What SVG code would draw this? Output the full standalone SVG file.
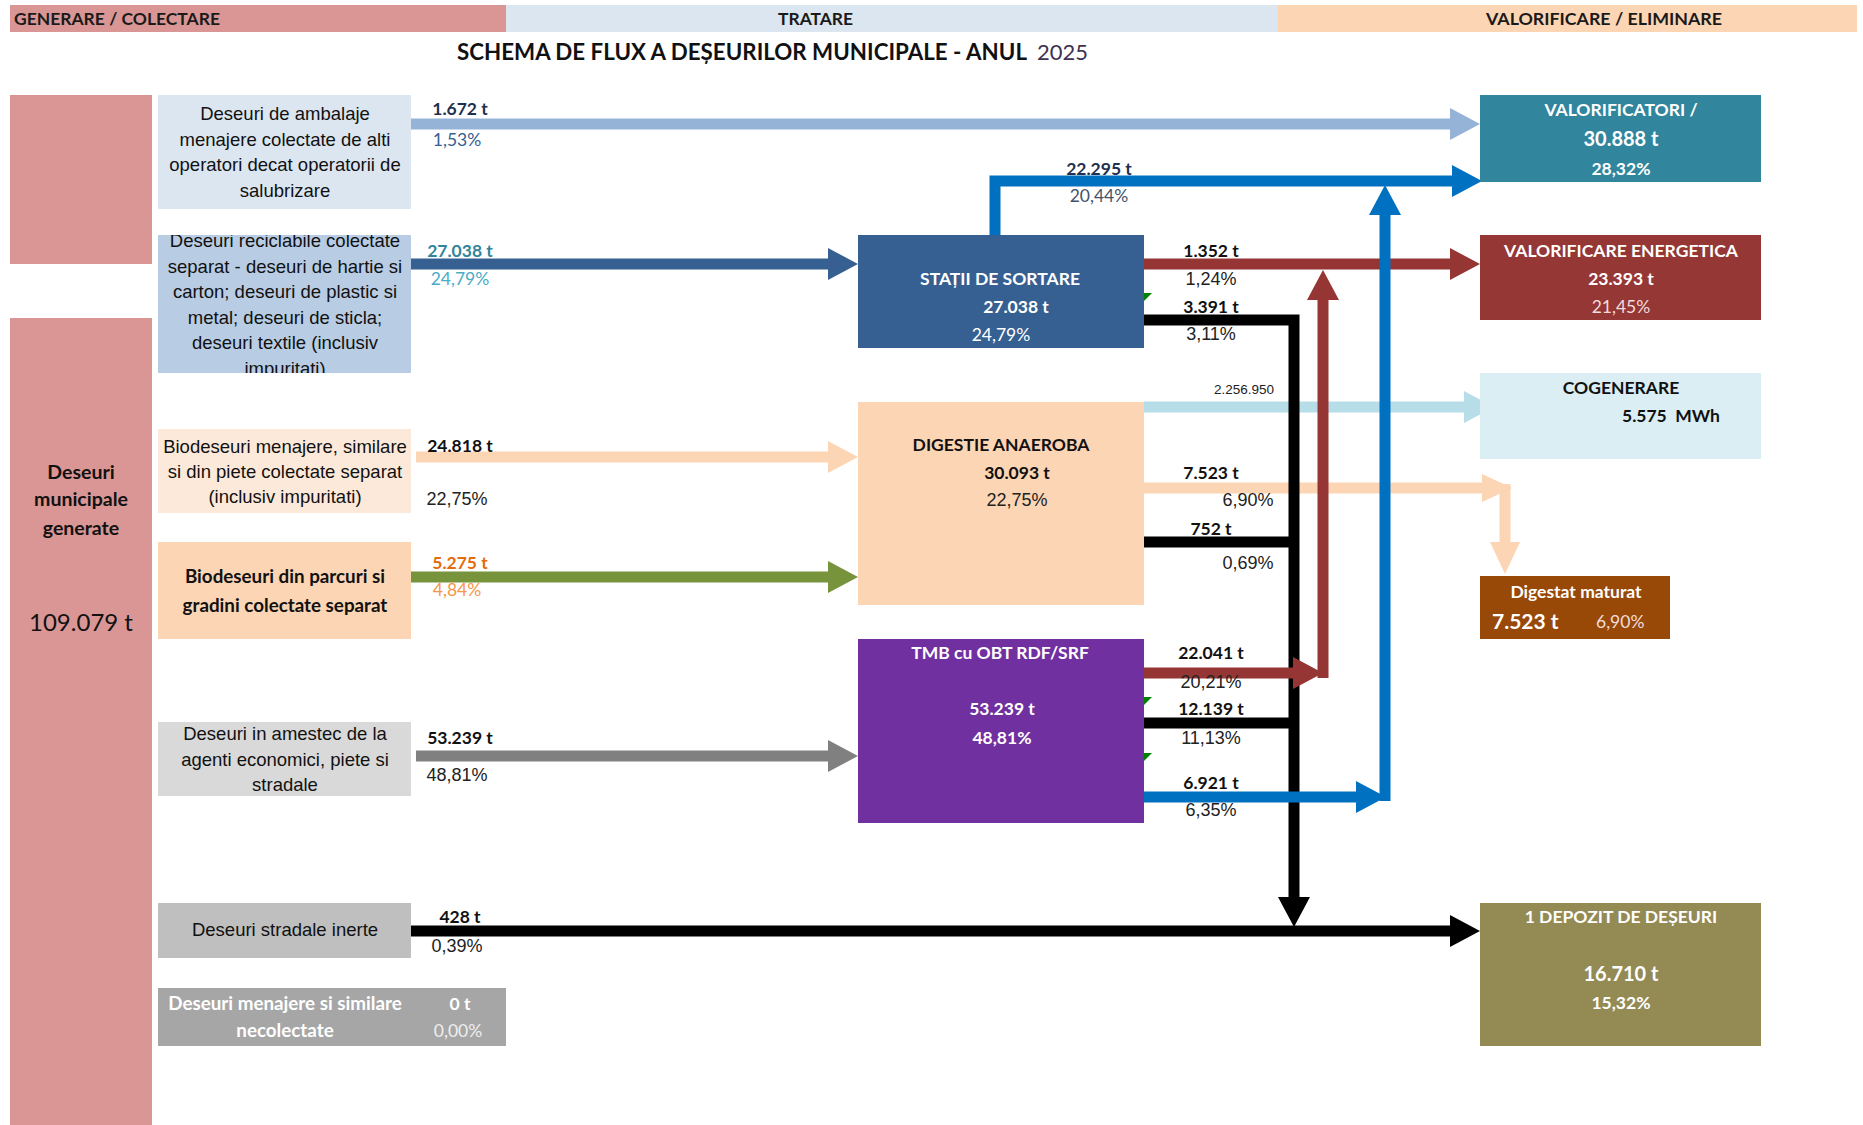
<svg xmlns="http://www.w3.org/2000/svg" width="1863" height="1125" viewBox="0 0 1863 1125">
  <style>
    .hdr { font-family: Lato, "Liberation Sans", sans-serif; font-weight: bold; font-size: 17px; fill: #1a1a1a; }
    .title { font-family: Lato, "Liberation Sans", sans-serif; font-weight: bold; font-size: 22px; fill: #111; }
    .bx { font-family: "Liberation Sans", Arial, sans-serif; font-size: 18.5px; fill: #111; text-anchor: middle; }
    .bb { font-family: Lato, "Liberation Sans", sans-serif; font-weight: bold; font-size: 18.8px; text-anchor: middle; }
    .rh { font-family: Lato, "Liberation Sans", sans-serif; font-weight: bold; font-size: 17.5px; text-anchor: middle; }
    .t { font-family: Lato, "Liberation Sans", sans-serif; font-weight: bold; font-size: 17.5px; fill: #111; text-anchor: middle; }
    .p { font-family: Lato, "Liberation Sans", sans-serif; font-size: 17.5px; text-anchor: middle; }
    .pa { font-family: "Liberation Sans", Arial, sans-serif; font-size: 18px; fill: #222; text-anchor: middle; }
    .w { fill: #ffffff; }
    .flow { fill: none; stroke-width: 11; stroke-linejoin: miter; }
  </style>
  <defs>
    <marker id="h-lblue" viewBox="0 0 30 32" refX="0" refY="16" markerWidth="30" markerHeight="32" markerUnits="userSpaceOnUse" orient="auto"><path d="M0,0 L30,16 L0,32 z" fill="#95b3d7"/></marker>
    <marker id="h-dblue" viewBox="0 0 30 32" refX="0" refY="16" markerWidth="30" markerHeight="32" markerUnits="userSpaceOnUse" orient="auto"><path d="M0,0 L30,16 L0,32 z" fill="#376092"/></marker>
    <marker id="h-peach" viewBox="0 0 30 32" refX="0" refY="16" markerWidth="30" markerHeight="32" markerUnits="userSpaceOnUse" orient="auto"><path d="M0,0 L30,16 L0,32 z" fill="#fcd5b4"/></marker>
    <marker id="h-green" viewBox="0 0 30 32" refX="0" refY="16" markerWidth="30" markerHeight="32" markerUnits="userSpaceOnUse" orient="auto"><path d="M0,0 L30,16 L0,32 z" fill="#77933c"/></marker>
    <marker id="h-gray" viewBox="0 0 30 32" refX="0" refY="16" markerWidth="30" markerHeight="32" markerUnits="userSpaceOnUse" orient="auto"><path d="M0,0 L30,16 L0,32 z" fill="#808080"/></marker>
    <marker id="h-black" viewBox="0 0 30 32" refX="0" refY="16" markerWidth="30" markerHeight="32" markerUnits="userSpaceOnUse" orient="auto"><path d="M0,0 L30,16 L0,32 z" fill="#000000"/></marker>
    <marker id="h-blue" viewBox="0 0 30 32" refX="0" refY="16" markerWidth="30" markerHeight="32" markerUnits="userSpaceOnUse" orient="auto"><path d="M0,0 L30,16 L0,32 z" fill="#0070c0"/></marker>
    <marker id="h-brown" viewBox="0 0 30 32" refX="0" refY="16" markerWidth="30" markerHeight="32" markerUnits="userSpaceOnUse" orient="auto"><path d="M0,0 L30,16 L0,32 z" fill="#963634"/></marker>
    <marker id="h-cyan" viewBox="0 0 30 32" refX="0" refY="16" markerWidth="30" markerHeight="32" markerUnits="userSpaceOnUse" orient="auto"><path d="M0,0 L30,16 L0,32 z" fill="#b7dee8"/></marker>
    <clipPath id="clip-recic"><rect x="158" y="235" width="253" height="138"/></clipPath>
  </defs>

  <rect width="1863" height="1125" fill="#ffffff"/>

  <!-- column headers -->
  <g id="headers">
    <rect x="10" y="5" width="496" height="27" fill="#da9694"/>
    <rect x="506" y="5" width="772" height="27" fill="#dce6f1"/>
    <rect x="1278" y="5" width="579" height="27" fill="#fcd5b4"/>
    <text class="hdr" x="14" y="25" textLength="206" lengthAdjust="spacingAndGlyphs">GENERARE / COLECTARE</text>
    <text class="hdr" x="778" y="25" textLength="75" lengthAdjust="spacingAndGlyphs">TRATARE</text>
    <text class="hdr" x="1486" y="25" textLength="236" lengthAdjust="spacingAndGlyphs">VALORIFICARE / ELIMINARE</text>
  </g>
  <text class="title" x="457" y="60" textLength="570" lengthAdjust="spacingAndGlyphs">SCHEMA DE FLUX A DEȘEURILOR MUNICIPALE - ANUL</text>
  <text class="title" x="1037" y="60" textLength="51" lengthAdjust="spacingAndGlyphs" style="font-weight:normal;fill:#3f3151">2025</text>

  <!-- flows -->
  <g id="connectors">
    <path class="flow" stroke="#95b3d7" d="M411,124 H1450" marker-end="url(#h-lblue)"/>
    <path class="flow" stroke="#376092" d="M411,264 H828" marker-end="url(#h-dblue)"/>
    <path class="flow" stroke="#fcd5b4" d="M416,457 H828" marker-end="url(#h-peach)"/>
    <path class="flow" stroke="#77933c" d="M411,577 H828" marker-end="url(#h-green)"/>
    <path class="flow" stroke="#808080" d="M416,756 H828" marker-end="url(#h-gray)"/>
    <path class="flow" stroke="#000000" d="M411,931 H1450" marker-end="url(#h-black)"/>

    <path class="flow" stroke="#0070c0" d="M995,235 V181 H1452" marker-end="url(#h-blue)"/>
    <path class="flow" stroke="#963634" d="M1144,264 H1450" marker-end="url(#h-brown)"/>
    <path class="flow" stroke="#b7dee8" d="M1144,407 H1464" marker-end="url(#h-cyan)"/>

    <path class="flow" stroke="#fcd5b4" d="M1144,488 H1486"/>
    <polygon points="1482,474 1512,488 1482,502" fill="#fcd5b4"/>
    <path class="flow" stroke="#fcd5b4" d="M1505,484 V544"/>
    <polygon points="1490,542 1520,542 1505,574" fill="#fcd5b4"/>

    <path class="flow" stroke="#000000" d="M1144,320 H1294 V897" marker-end="url(#h-black)"/>
    <path class="flow" stroke="#000000" d="M1144,542 H1294"/>
    <path class="flow" stroke="#000000" d="M1144,723 H1294"/>

    <path class="flow" stroke="#963634" d="M1323,678 V300" marker-end="url(#h-brown)"/>
    <path class="flow" stroke="#963634" d="M1144,673 H1293" marker-end="url(#h-brown)"/>

    <path class="flow" stroke="#0070c0" d="M1385,801 V215" marker-end="url(#h-blue)"/>
    <path class="flow" stroke="#0070c0" d="M1144,797 H1356" marker-end="url(#h-blue)"/>
  </g>

  <!-- generation column -->
  <g id="node-generate">
    <rect x="10" y="95" width="142" height="169" fill="#da9694"/>
    <rect x="10" y="318" width="142" height="807" fill="#da9694"/>
    <text class="t" x="81" y="479" style="font-size:19.5px">Deseuri</text>
    <text class="t" x="81" y="506" style="font-size:19.5px">municipale</text>
    <text class="t" x="81" y="535" style="font-size:19.5px">generate</text>
    <text class="p" x="81" y="631" style="font-size:24px;fill:#111">109.079 t</text>
  </g>

  <g id="node-ambalaje">
    <rect x="158" y="95" width="253" height="114" fill="#dce6f1"/>
    <text class="bx" x="285" y="120">Deseuri de ambalaje</text>
    <text class="bx" x="285" y="146">menajere colectate de alti</text>
    <text class="bx" x="285" y="171">operatori decat operatorii de</text>
    <text class="bx" x="285" y="197">salubrizare</text>
    <text class="t" x="460" y="115" style="fill:#1f3050">1.672 t</text>
    <text class="p" x="457" y="146" style="fill:#366092">1,53%</text>
  </g>

  <g id="node-reciclabile">
    <rect x="158" y="235" width="253" height="138" fill="#b8cce4"/>
    <g clip-path="url(#clip-recic)">
      <text class="bx" x="285" y="247">Deseuri reciclabile colectate</text>
      <text class="bx" x="285" y="273">separat - deseuri de hartie si</text>
      <text class="bx" x="285" y="298">carton; deseuri de plastic si</text>
      <text class="bx" x="285" y="324">metal; deseuri de sticla;</text>
      <text class="bx" x="285" y="349">deseuri textile (inclusiv</text>
      <text class="bx" x="285" y="375">impuritati)</text>
    </g>
    <text class="t" x="460" y="257" style="fill:#31849b">27.038 t</text>
    <text class="p" x="460" y="285" style="fill:#4bacc6">24,79%</text>
  </g>

  <g id="node-biomenajere">
    <rect x="158" y="429" width="253" height="84" fill="#fde9d9"/>
    <text class="bx" x="285" y="453">Biodeseuri menajere, similare</text>
    <text class="bx" x="285" y="478">si din piete colectate separat</text>
    <text class="bx" x="285" y="503">(inclusiv impuritati)</text>
    <text class="t" x="460" y="452">24.818 t</text>
    <text class="pa" x="457" y="505">22,75%</text>
  </g>

  <g id="node-bioparcuri">
    <rect x="158" y="542" width="253" height="97" fill="#fcd5b4"/>
    <text class="bb" x="285" y="583" style="fill:#111">Biodeseuri din parcuri si</text>
    <text class="bb" x="285" y="612" style="fill:#111">gradini colectate separat</text>
    <text class="t" x="460" y="569" style="fill:#e46c0a">5.275 t</text>
    <text class="p" x="457" y="596" style="fill:#f79646">4,84%</text>
  </g>

  <g id="node-amestec">
    <rect x="158" y="722" width="253" height="74" fill="#d9d9d9"/>
    <text class="bx" x="285" y="740">Deseuri in amestec de la</text>
    <text class="bx" x="285" y="766">agenti economici, piete si</text>
    <text class="bx" x="285" y="791">stradale</text>
    <text class="t" x="460" y="744">53.239 t</text>
    <text class="pa" x="457" y="781">48,81%</text>
  </g>

  <g id="node-stradale">
    <rect x="158" y="903" width="253" height="55" fill="#bfbfbf"/>
    <text class="bx" x="285" y="936">Deseuri stradale inerte</text>
    <text class="t" x="460" y="923">428 t</text>
    <text class="pa" x="457" y="952">0,39%</text>
  </g>

  <g id="node-necolectate">
    <rect x="158" y="988" width="348" height="58" fill="#a6a6a6"/>
    <text class="bb w" x="285" y="1010">Deseuri menajere si similare</text>
    <text class="bb w" x="285" y="1037">necolectate</text>
    <text class="t w" x="460" y="1010">0 t</text>
    <text class="p" x="458" y="1037" style="fill:#eeeeee">0,00%</text>
  </g>

  <!-- treatment column -->
  <g id="node-sortare">
    <rect x="858" y="235" width="286" height="113" fill="#376092"/>
    <text class="t w" x="1000" y="285">STAȚII DE SORTARE</text>
    <text class="t w" x="1016" y="313">27.038 t</text>
    <text class="p w" x="1001" y="341">24,79%</text>
    <polygon points="1144,293 1152,293 1144,301" fill="#008000"/>
  </g>

  <g id="node-digestie">
    <rect x="858" y="402" width="286" height="203" fill="#fcd5b4"/>
    <text class="t" x="1001" y="451">DIGESTIE ANAEROBA</text>
    <text class="t" x="1017" y="479">30.093 t</text>
    <text class="pa" x="1017" y="506">22,75%</text>
  </g>

  <g id="node-tmb">
    <rect x="858" y="639" width="286" height="184" fill="#7030a0"/>
    <text class="t w" x="1000" y="659">TMB cu OBT RDF/SRF</text>
    <text class="t w" x="1002" y="715">53.239 t</text>
    <text class="t w" x="1002" y="744">48,81%</text>
    <polygon points="1144,697 1152,697 1144,705" fill="#008000"/>
    <polygon points="1144,753 1152,753 1144,761" fill="#008000"/>
  </g>

  <!-- flow labels -->
  <g id="flow-labels">
    <text class="t" x="1099" y="175" style="fill:#1f3050">22.295 t</text>
    <text class="p" x="1099" y="202" style="fill:#44536b">20,44%</text>
    <text class="t" x="1211" y="257">1.352 t</text>
    <text class="pa" x="1211" y="285">1,24%</text>
    <text class="t" x="1211" y="313">3.391 t</text>
    <text class="pa" x="1211" y="340">3,11%</text>
    <text class="pa" x="1244" y="394" style="font-size:13.5px">2.256.950</text>
    <text class="t" x="1211" y="479">7.523 t</text>
    <text class="pa" x="1248" y="506">6,90%</text>
    <text class="t" x="1211" y="535">752 t</text>
    <text class="pa" x="1248" y="569">0,69%</text>
    <text class="t" x="1211" y="659">22.041 t</text>
    <text class="pa" x="1211" y="688">20,21%</text>
    <text class="t" x="1211" y="715">12.139 t</text>
    <text class="pa" x="1211" y="744">11,13%</text>
    <text class="t" x="1211" y="789">6.921 t</text>
    <text class="pa" x="1211" y="816">6,35%</text>
  </g>

  <!-- recovery / disposal column -->
  <g id="node-valorificatori">
    <rect x="1480" y="95" width="281" height="87" fill="#31859c"/>
    <text class="rh w" x="1621" y="116">VALORIFICATORI /</text>
    <text class="t w" x="1621" y="146" style="font-size:20px">30.888 t</text>
    <text class="t w" x="1621" y="175">28,32%</text>
  </g>

  <g id="node-energetica">
    <rect x="1480" y="235" width="281" height="85" fill="#953735"/>
    <text class="rh w" x="1621" y="257">VALORIFICARE ENERGETICA</text>
    <text class="t w" x="1621" y="285">23.393 t</text>
    <text class="p" x="1621" y="313" style="fill:#f2dcdb">21,45%</text>
  </g>

  <g id="node-cogenerare">
    <rect x="1480" y="373" width="281" height="86" fill="#daeef3"/>
    <text class="t" x="1621" y="394">COGENERARE</text>
    <text class="t" x="1622" y="422" style="text-anchor:start" xml:space="preserve">5.575  MWh</text>
  </g>

  <g id="node-digestat">
    <rect x="1480" y="576" width="190" height="63" fill="#984807"/>
    <text class="t w" x="1576" y="598">Digestat maturat</text>
    <text class="t w" x="1492" y="629" style="font-size:21px;text-anchor:start">7.523 t</text>
    <text class="p" x="1596" y="628" style="fill:#f2dcdb;text-anchor:start">6,90%</text>
  </g>

  <g id="node-depozit">
    <rect x="1480" y="903" width="281" height="143" fill="#948a54"/>
    <text class="rh w" x="1621" y="923">1 DEPOZIT DE DEȘEURI</text>
    <text class="t w" x="1621" y="981" style="font-size:20px">16.710 t</text>
    <text class="t w" x="1621" y="1009">15,32%</text>
  </g>
</svg>
